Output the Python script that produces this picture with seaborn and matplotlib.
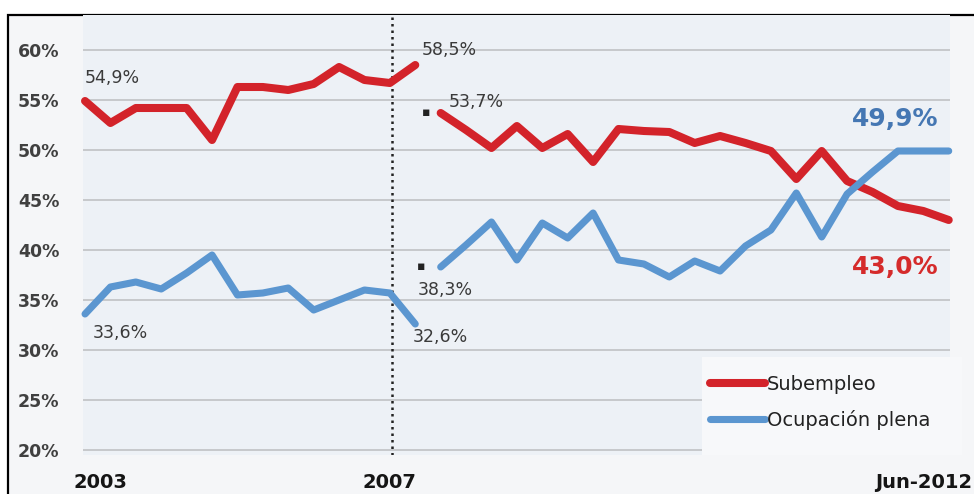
import matplotlib
matplotlib.use("Agg")
import matplotlib.pyplot as plt
from matplotlib.lines import Line2D
from matplotlib.patches import Rectangle
import seaborn as sns
import pandas as pd

# ---------------- data ----------------
periodo_1 = list(range(0, 14))
periodo_2 = list(range(14, 35))
subempleo_1 = [54.9, 52.7, 54.2, 54.2, 54.2, 51.0, 56.3, 56.3, 56.0, 56.6, 58.3, 57.0, 56.7, 58.5]
subempleo_2 = [53.7, 52.0, 50.2, 52.4, 50.2, 51.6, 48.8, 52.1, 51.9, 51.8, 50.7, 51.4, 50.7,
               49.9, 47.1, 49.9, 46.9, 45.8, 44.4, 43.9, 43.0]
ocupacion_1 = [33.6, 36.3, 36.8, 36.1, 37.7, 39.5, 35.5, 35.7, 36.2, 34.0, 35.0, 36.0, 35.7, 32.6]
ocupacion_2 = [38.3, 40.5, 42.8, 39.0, 42.7, 41.2, 43.7, 39.0, 38.6, 37.3, 38.9, 37.9, 40.4,
               42.0, 45.7, 41.3, 45.6, 47.8, 49.9, 49.9, 49.9]
series_names = ["Subempleo", "Ocupación plena"]
y_ticks = [20, 25, 30, 35, 40, 45, 50, 55, 60]
y_tick_labels = ["20%", "25%", "30%", "35%", "40%", "45%", "50%", "55%", "60%"]
x_tick_pos = [0.6, 12.0, 33.0]
x_tick_labels = ["2003", "2007", "Jun-2012"]
corte = 12.1

RED = "#d3232a"
BLUE = "#5b96d0"

rows = []
for tramo, (xs, ys) in enumerate([(periodo_1, subempleo_1), (periodo_2, subempleo_2)]):
    for x, y in zip(xs, ys):
        rows.append({"periodo": x, "valor": y, "serie": series_names[0], "tramo": tramo})
for tramo, (xs, ys) in enumerate([(periodo_1, ocupacion_1), (periodo_2, ocupacion_2)]):
    for x, y in zip(xs, ys):
        rows.append({"periodo": x, "valor": y, "serie": series_names[1], "tramo": tramo})
df = pd.DataFrame(rows)

# ---------------- figure ----------------
sns.set_theme(style="white")
plt.rcParams["font.family"] = ["DejaVu Sans"]

W, H = 974, 494
fig = plt.figure(figsize=(W / 100, H / 100), dpi=100, facecolor="white")

# outer frame
fig.patches.append(Rectangle((8 / W, -0.2), 1.2, 1.2 - 15 / H,
                             transform=fig.transFigure, facecolor="#f5f6f8",
                             edgecolor="black", linewidth=1.6, zorder=-5))

ax_l, ax_r, ax_t, ax_b = 83, 950, 15, 455
ax = fig.add_axes([ax_l / W, 1 - ax_b / H, (ax_r - ax_l) / W, (ax_b - ax_t) / H])
ax.set_zorder(1)
ax.set_facecolor("#edf1f6")
for s in ax.spines.values():
    s.set_visible(False)

ax.set_axisbelow(True)
ax.yaxis.grid(True, color="#c6c8cb", linewidth=1.4)
ax.xaxis.grid(False)

# legend background box (covers grid)
ax.add_patch(Rectangle((0.714, 0.0), 0.30, 0.222, transform=ax.transAxes,
                       facecolor="#f7f8fa", edgecolor="none", zorder=1.2, clip_on=False))

sub = df[df["serie"] == series_names[0]]
ocu = df[df["serie"] == series_names[1]]
sns.lineplot(data=sub, x="periodo", y="valor", units="tramo", estimator=None,
             color=RED, linewidth=5.8, ax=ax, legend=False, zorder=3,
             solid_capstyle="round", solid_joinstyle="round")
sns.lineplot(data=ocu, x="periodo", y="valor", units="tramo", estimator=None,
             color=BLUE, linewidth=5.1, ax=ax, legend=False, zorder=3,
             solid_capstyle="round", solid_joinstyle="round")
for ln in ax.lines:
    ln.set_clip_on(False)

ax.axvline(corte, color="#222222", linestyle=(0, (1, 1.6)), linewidth=1.8, zorder=2)

ax.set_xlim(-0.08, 34.05)
ax.set_ylim(19.5, 63.5)
ax.set_yticks(y_ticks)
ax.set_yticklabels(y_tick_labels, fontsize=12.5, fontweight="bold", color="#404040")
ax.set_xticks(x_tick_pos)
ax.set_xticklabels(x_tick_labels, fontsize=14, fontweight="bold", color="#151515")
ax.tick_params(axis="y", length=0, pad=17)
ax.tick_params(axis="x", length=0, pad=13)
ax.set_xlabel("")
ax.set_ylabel("")

# data labels
lab = dict(fontsize=12.5, color="#3a3a3a", va="center", ha="left", zorder=5)
ax.text(0.0, 57.2, "54,9%", **lab)
ax.text(13.25, 60.0, "58,5%", **lab)
ax.text(14.3, 54.8, "53,7%", **lab)
ax.text(0.3, 31.7, "33,6%", **lab)
ax.text(12.9, 31.3, "32,6%", **lab)
ax.text(13.1, 36.0, "38,3%", **lab)
ax.text(13.25, 53.7, "▪", fontsize=9, color="#222222", va="center", ha="left")
ax.text(13.05, 38.3, "▪", fontsize=9, color="#222222", va="center", ha="left")
ax.text(31.9, 53.1, "49,9%", fontsize=18, fontweight="bold", color="#4577b3",
        ha="center", va="center", zorder=5)
ax.text(31.9, 38.3, "43,0%", fontsize=18, fontweight="bold", color="#d52b2b",
        ha="center", va="center", zorder=5)

# legend
handles = [Line2D([], [], color=RED, linewidth=5.8),
           Line2D([], [], color=BLUE, linewidth=5.1)]
leg = ax.legend(handles, series_names, loc="upper left",
                bbox_to_anchor=((710 - ax_l) / (ax_r - ax_l), (ax_b - 375) / (ax_b - ax_t)),
                frameon=False, fontsize=14, handlelength=2.83, handletextpad=0.1,
                labelspacing=0.81, borderpad=0, borderaxespad=0)
for t in leg.get_texts():
    t.set_color("#222222")
leg.set_zorder(6)

fig.savefig("out.png", dpi=100, facecolor="white")
